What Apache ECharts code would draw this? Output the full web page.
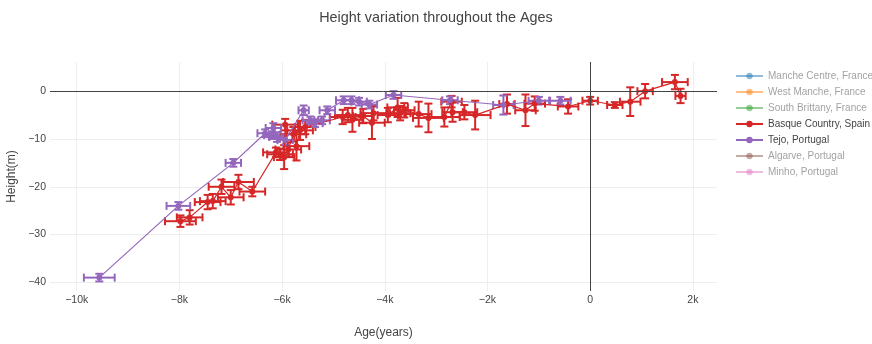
<!DOCTYPE html>
<html>
<head>
<meta charset="utf-8">
<title>Height variation throughout the Ages</title>
<script src="https://cdn.jsdelivr.net/npm/echarts@6/dist/echarts.min.js"></script>
<style>
  html, body { margin: 0; padding: 0; background: #fff; }
  #chart { width: 872px; height: 344px; }
</style>
</head>
<body>
<div id="chart"></div>
<script>
// legend entries (plotly default colour order)
var siteNames = ['Manche Centre, France', 'West Manche, France', 'South Brittany, France',
  'Basque Country, Spain', 'Tejo, Portugal', 'Algarve, Portugal', 'Minho, Portugal'];
var siteColors = ['#1f77b4', '#ff7f0e', '#2ca02c', '#d62728', '#9467bd', '#8c564b', '#e377c2'];
var hiddenSites = ['Manche Centre, France', 'West Manche, France', 'South Brittany, France',
  'Algarve, Portugal', 'Minho, Portugal'];

var xTicks = [-10000, -8000, -6000, -4000, -2000, 0, 2000];
var yTicks = [-40, -30, -20, -10, 0];

// Basque Country, Spain
var basqueAge = [-7980, -7800, -7450, -7350, -7180, -7000, -6850, -6580, -6120, -6040,
  -5960, -5940, -5880, -5780, -5720, -5650, -5550, -4820, -4720, -4630, -4420, -4250,
  -4220, -3940, -3750, -3700, -3620, -3340, -3150, -2840, -2700, -2680, -2450, -2240,
  -1620, -1260, -1080, -430, 0, 480, 780, 1070, 1650, 1760];
var basqueHeight = [-27.2, -26.4, -23.2, -23.0, -20.0, -22.2, -19.0, -21.0, -12.8, -13.2,
  -13.8, -7.0, -12.2, -9.0, -11.5, -8.2, -7.5, -5.4, -5.0, -6.0, -5.2, -6.6,
  -4.6, -5.0, -3.4, -4.6, -4.0, -4.8, -5.6, -5.4, -2.2, -4.4, -4.4, -5.0,
  -2.7, -4.0, -2.6, -3.2, -2.0, -2.9, -2.2, 0, 1.9, -1.0];
var basqueAgeErr = [300, 250, 250, 250, 250, 250, 300, 250, 250, 250,
  200, 250, 250, 250, 250, 250, 200, 250, 250, 200, 200, 250,
  250, 200, 200, 200, 200, 250, 300, 300, 200, 200, 250, 300,
  150, 200, 200, 200, 150, 150, 200, 150, 250, 100];
var basqueHeightErr = [1.2, 1.5, 1.5, 1.5, 1.5, 1.5, 1.5, 1.0, 1.0, 1.2,
  2.5, 1.2, 1.5, 1.5, 3.0, 2.0, 1.5, 1.5, 1.5, 2.5, 1.5, 3.4,
  1.5, 1.5, 2.0, 1.5, 1.5, 2.6, 3.0, 2.0, 1.2, 2.0, 1.5, 3.0,
  2.0, 3.3, 1.5, 1.5, 0.8, 0.6, 3.0, 1.5, 1.5, 1.5];

// Tejo, Portugal
var tejoAge = [-9560, -8020, -6950, -6330, -6200, -6170, -6100, -5940, -5580, -5450,
  -5360, -5220, -5120, -4800, -4650, -4500, -4300, -3830, -2730, -1690, -1000, -580];
var tejoHeight = [-39.0, -24.0, -15.0, -8.8, -9.2, -7.7, -9.6, -10.2, -4.0, -6.1,
  -6.7, -6.1, -4.0, -1.9, -1.9, -2.2, -2.8, -0.8, -1.9, -2.9, -2.0, -2.0];
var tejoAgeErr = [300, 230, 150, 150, 150, 150, 150, 150, 100, 150,
  150, 150, 150, 150, 150, 150, 150, 150, 150, 200, 200, 200];
var tejoHeightErr = [0.8, 0.8, 0.8, 0.8, 0.8, 1.0, 1.0, 1.0, 1.0, 0.8,
  0.8, 0.8, 0.8, 0.8, 0.8, 0.8, 0.8, 0.8, 0.8, 2.0, 0.8, 0.8];

var FONT = "'Liberation Sans Narrow', 'Arial Narrow', 'Liberation Sans', Arial, sans-serif";

function zip(a, b, c, d) {
  var out = [];
  for (var i = 0; i < a.length; i++) {
    out.push(c ? [a[i], b[i], c[i], d[i]] : [a[i], b[i]]);
  }
  return out;
}

function kLabel(v) {
  if (v === 0) return '0';
  return (v < 0 ? '\u2212' : '') + Math.abs(v / 1000) + 'k';
}

function errorBars(color) {
  return function (params, api) {
    var x = api.value(0), y = api.value(1), ex = api.value(2), ey = api.value(3);
    var l = api.coord([x - ex, y]), r = api.coord([x + ex, y]);
    var t = api.coord([x, y + ey]), b = api.coord([x, y - ey]);
    var w = 4;
    var st = { stroke: color, lineWidth: 2 };
    function seg(x1, y1, x2, y2) {
      return { type: 'line', shape: { x1: x1, y1: y1, x2: x2, y2: y2 }, style: st };
    }
    return {
      type: 'group',
      children: [
        seg(l[0], l[1], r[0], r[1]),
        seg(l[0], l[1] - w, l[0], l[1] + w),
        seg(r[0], r[1] - w, r[0], r[1] + w),
        seg(t[0], t[1], b[0], b[1]),
        seg(t[0] - w, t[1], t[0] + w, t[1]),
        seg(b[0] - w, b[1], b[0] + w, b[1])
      ]
    };
  };
}

var pointsBySite = {
  'Basque Country, Spain': zip(basqueAge, basqueHeight),
  'Tejo, Portugal': zip(tejoAge, tejoHeight)
};
var errorsBySite = {
  'Basque Country, Spain': zip(basqueAge, basqueHeight, basqueAgeErr, basqueHeightErr),
  'Tejo, Portugal': zip(tejoAge, tejoHeight, tejoAgeErr, tejoHeightErr)
};

var series = [];
siteNames.forEach(function (name, i) {
  var c = siteColors[i];
  if (errorsBySite[name]) {
    series.push({
      type: 'custom',
      name: name + ' err',
      renderItem: errorBars(c),
      data: errorsBySite[name],
      encode: { x: 0, y: 1 },
      z: 2,
      silent: true
    });
  }
  series.push({
    type: 'line',
    name: name,
    data: pointsBySite[name] || [],
    symbol: 'circle',
    symbolSize: 6,
    color: c,
    lineStyle: { width: 1.2, color: c },
    itemStyle: { color: c },
    z: 3
  });
});

// zero lines
series.push({
  type: 'line',
  name: 'zero',
  data: [],
  markLine: {
    silent: true,
    symbol: 'none',
    label: { show: false },
    lineStyle: { color: '#444', width: 1, type: 'solid' },
    data: [{ xAxis: 0 }, { yAxis: 0 }]
  },
  z: 1
});

var legendData = siteNames.map(function (name) {
  var faded = hiddenSites.indexOf(name) >= 0;
  var item = { name: name };
  if (faded) {
    item.itemStyle = { opacity: 0.5 };
    item.lineStyle = { opacity: 0.5 };
    item.textStyle = { color: 'rgba(68,68,68,0.5)' };
  }
  return item;
});

var chart = echarts.init(document.getElementById('chart'));
chart.setOption({
  animation: false,
  backgroundColor: '#fff',
  textStyle: { fontFamily: FONT },
  title: {
    text: 'Height variation throughout the Ages',
    left: 'center',
    top: 6,
    textStyle: { fontFamily: FONT, fontSize: 14.4, fontWeight: 'normal', color: '#444' }
  },
  legend: {
    orient: 'vertical',
    left: 730,
    top: 65,
    itemWidth: 27,
    itemHeight: 8,
    itemGap: 4,
    lineStyle: { width: 2 },
    textStyle: { fontFamily: FONT, fontSize: 10, color: '#444', lineHeight: 12 },
    data: legendData,
    selectedMode: false
  },
  grid: { left: 50, right: 155, top: 62, bottom: 53, containLabel: false, outerBoundsMode: 'none' },
  xAxis: {
    type: 'value',
    min: -10520,
    max: 2470,
    name: 'Age(years)',
    nameLocation: 'middle',
    nameGap: 36,
    nameTextStyle: { fontFamily: FONT, fontSize: 12, color: '#444' },
    axisLine: { show: false },
    axisTick: { show: false, customValues: xTicks },
    axisLabel: { customValues: xTicks, formatter: kLabel, color: '#444', fontSize: 10.5, margin: 4 },
    splitLine: { show: true, lineStyle: { color: '#eee', width: 1 } }
  },
  yAxis: {
    type: 'value',
    min: -41.8,
    max: 6.1,
    name: 'Height(m)',
    nameLocation: 'middle',
    nameGap: 28,
    nameTextStyle: { fontFamily: FONT, fontSize: 12, color: '#444' },
    axisLine: { show: false },
    axisTick: { show: false, customValues: yTicks },
    axisLabel: {
      customValues: yTicks,
      formatter: function (v) { return v === 0 ? '0' : (v < 0 ? '\u2212' : '') + Math.abs(v); },
      color: '#444', fontSize: 10.5, margin: 4
    },
    splitLine: { show: true, lineStyle: { color: '#eee', width: 1 } }
  },
  series: series
});
</script>
</body>
</html>
